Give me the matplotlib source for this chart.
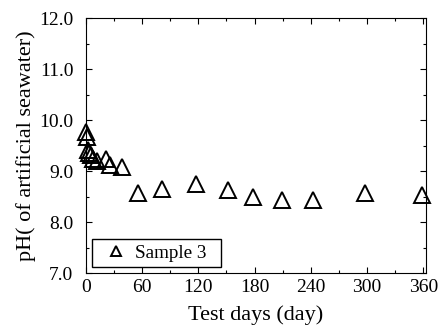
import numpy as np
import matplotlib
matplotlib.use('Agg')
import matplotlib.pyplot as plt
from matplotlib.ticker import MultipleLocator
from matplotlib.patches import Rectangle

# ---------------------------------- data ---------------------------------- #
days = [0, 1, 2, 3, 5, 8, 12, 21, 26, 39, 56, 81, 118, 152, 178, 209, 242, 298, 359]
ph = [9.78, 9.68, 9.42, 9.36, 9.32, 9.25, 9.20, 9.24, 9.12, 9.09,
      8.58, 8.66, 8.76, 8.63, 8.50, 8.44, 8.44, 8.57, 8.54]
xticks = [0, 60, 120, 180, 240, 300, 360]
yticks = [7.0, 8.0, 9.0, 10.0, 11.0, 12.0]

plt.rcParams['font.family'] = ['Liberation Serif', 'DejaVu Serif']

fig = plt.figure(figsize=(4.38, 3.31), dpi=100)
ax = fig.add_axes([0.196, 0.174, 0.777, 0.771])

ax.plot(days, ph, ls='none', marker='^', ms=11.5, mfc='none', mec='black',
        mew=1.4, label='Sample 3', clip_on=False, zorder=3)

ax.set_xlim(0, 363)
ax.set_ylim(7.0, 12.0)
ax.set_xticks(xticks)
ax.set_yticks(yticks)
ax.set_yticklabels(['%.1f' % v for v in yticks])
ax.xaxis.set_minor_locator(MultipleLocator(30))
ax.yaxis.set_minor_locator(MultipleLocator(0.5))
ax.tick_params(which='both', direction='in', top=True, right=True,
               labelsize=14, colors='black')
ax.tick_params(which='major', length=4, width=0.8)
ax.tick_params(axis='y', which='major', pad=9)
ax.tick_params(axis='x', which='major', pad=4)
ax.tick_params(which='minor', length=2.5, width=0.8)
for s in ax.spines.values():
    s.set_linewidth(0.8)

ax.set_xlabel('Test days (day)', fontsize=16, labelpad=7)
ax.set_ylabel('pH( of artificial seawater)', fontsize=16, labelpad=2)

# legend without its own frame, box drawn by hand (wider right margin)
leg = ax.legend(loc='lower left', frameon=False, fontsize=13.8, markerscale=0.6,
                handlelength=1.9, borderpad=0.3, handletextpad=0.05,
                borderaxespad=0, bbox_to_anchor=(0.018, 0.024))
ax.add_patch(Rectangle((0.0176, 0.0235), 0.38, 0.11, transform=ax.transAxes,
                       fill=False, ec='black', lw=1.0, zorder=4))

plt.savefig('out.png', dpi=100)
plt.close('all')
